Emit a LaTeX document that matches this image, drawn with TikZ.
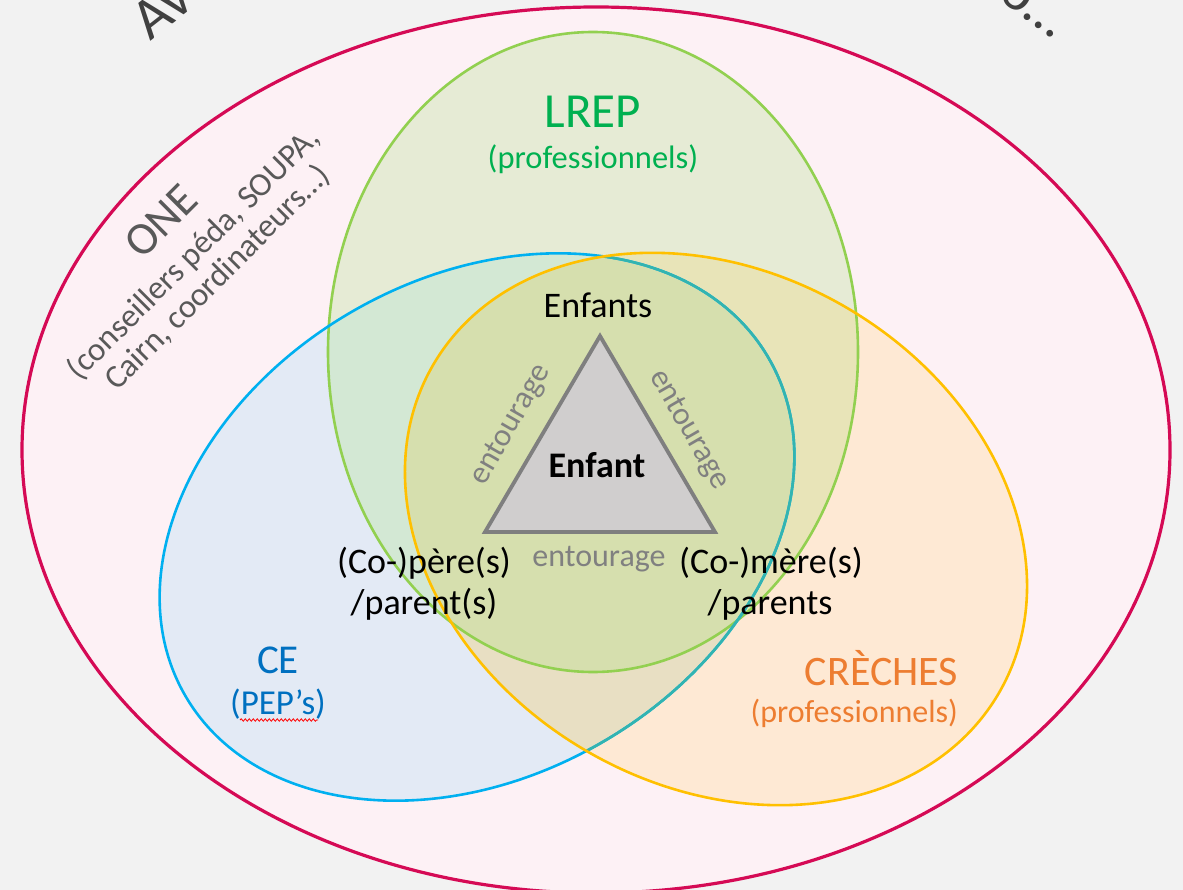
\documentclass[tikz,border=0pt]{standalone}
\usepackage{fontspec}
\setmainfont{Carlito}
\usetikzlibrary{decorations.pathmorphing}
\definecolor{bgc}{HTML}{F2F2F2}
\definecolor{onefill}{HTML}{FDF1F5}
\definecolor{onestroke}{HTML}{D50A55}
\definecolor{lrepfill}{HTML}{E6EBD5}
\definecolor{cefill}{HTML}{E3EAF5}
\definecolor{crfill}{HTML}{FEE9D4}
\definecolor{celrep}{HTML}{D3E8D4}
\definecolor{lrepcr}{HTML}{E8E4B8}
\definecolor{cecr}{HTML}{E8DFC3}
\definecolor{triple}{HTML}{D6DFAE}
\definecolor{greenstroke}{HTML}{92D050}
\definecolor{bluestroke}{HTML}{00B0F0}
\definecolor{tealstroke}{HTML}{33B4B0}
\definecolor{orangestroke}{HTML}{FFC000}
\definecolor{lrepgreen}{HTML}{00B050}
\definecolor{ceblue}{HTML}{0070C0}
\definecolor{crorange}{HTML}{ED7D31}
\definecolor{darkgray}{HTML}{595959}
\definecolor{midgray}{HTML}{808080}
\definecolor{trifill}{HTML}{D0CECE}
\definecolor{tristroke}{HTML}{7F7F7F}
\definecolor{toptext}{HTML}{404040}
\begin{document}
\begin{tikzpicture}[x=1pt,y=1pt,
  ellONE/.style={insert path={(596,-450) ellipse [x radius=574, y radius=443]}},
  ellLREP/.style={insert path={(593,-352) ellipse [x radius=265, y radius=320]}},
  ellCE/.style={insert path={(477,-527) ellipse [x radius=337, y radius=249, rotate=30]}},
  ellCR/.style={insert path={(716,-529) ellipse [x radius=327, y radius=257, rotate=-30]}},
  lbl/.style={inner sep=0pt, outer sep=0pt},
  blk/.style={lbl, text=black, font=\fontsize{36}{42}\selectfont},
  ent/.style={lbl, text=midgray, font=\fontsize{32}{36}\selectfont},
]
\useasboundingbox (0,0) rectangle (1183,-890);
\clip (0,0) rectangle (1183,-890);
\fill[bgc] (0,0) rectangle (1183,-890);

% partial top title
\node[lbl, text=toptext, font=\fontsize{58}{62}\selectfont, rotate=38, anchor=base west] (titleL) at (150,-42) {Av};
\node[lbl, text=toptext, font=\fontsize{56}{60}\selectfont, rotate=-36, anchor=base east] (titleR) at (1053,-39) {o…};

% ONE
\fill[onefill, ellONE];
\draw[onestroke, line width=3.2pt, ellONE];

% region fills
\fill[lrepfill, ellLREP];
\fill[cefill, ellCE];
\fill[crfill, ellCR];
\begin{scope}\clip[ellCE]; \fill[celrep, ellLREP];\end{scope}
\begin{scope}\clip[ellLREP]; \fill[lrepcr, ellCR];\end{scope}
\begin{scope}\clip[ellCE]; \fill[cecr, ellCR];\end{scope}
\begin{scope}\clip[ellCE]; \clip[ellLREP]; \fill[triple, ellCR];\end{scope}

% strokes
\draw[greenstroke, line width=2.6pt, ellLREP];
\draw[bluestroke, line width=2.6pt, ellCE];
\begin{scope}\clip[ellCR]; \draw[tealstroke, line width=2.6pt, ellCE];\end{scope}
\draw[orangestroke, line width=2.6pt, ellCR];

% ONE text
\node[lbl, text=darkgray, rotate=45, align=center, font=\fontsize{33}{34}\selectfont] (one) at (189,-249)
  {{\fontsize{46}{50}\selectfont ONE}\\[7pt](conseillers péda, SOUPA,\\Cairn, coordinateurs…)};

% LREP
\node[lbl, text=lrepgreen, font=\fontsize{49}{52}\selectfont, anchor=base] (lrep) at (593,-128) {LREP};
\node[lbl, text=lrepgreen, font=\fontsize{32.5}{36}\selectfont, anchor=base] (lrepsub) at (593,-169) {(professionnels)};

% CE
\node[lbl, text=ceblue, font=\fontsize{41}{44}\selectfont, anchor=base] (ce) at (278,-673) {CE};
\node[lbl, text=ceblue, font=\fontsize{35}{38}\selectfont, anchor=base] (pep) at (278,-714) {(PEP’s)};
\coordinate (wavyA) at (240,-720);
\coordinate (wavyB) at (318,-720);
\draw[red, line width=0.8pt, decorate, decoration={snake, amplitude=1.2pt, segment length=4pt}] (wavyA) -- (wavyB);

% CRECHES
\node[lbl, text=crorange, font=\fontsize{42}{45}\selectfont, anchor=base east] (creches) at (958,-685) {CRÈCHES};
\node[lbl, text=crorange, font=\fontsize{32}{36}\selectfont, anchor=base east] (crechesub) at (958,-722) {(professionnels)};

% triangle
\coordinate (tA) at (600,-336);
\coordinate (tB) at (485,-532);
\coordinate (tC) at (715,-532);
\draw[fill=trifill, draw=tristroke, line width=3.8pt, line join=miter] (tA) -- (tB) -- (tC) -- cycle;
\node[lbl, text=black, font=\fontsize{36}{40}\selectfont\bfseries, anchor=base] (enfant) at (597,-477) {Enfant};
\node[blk, anchor=base] (enfants) at (598,-318) {Enfants};
\node[ent, rotate=60] (entL) at (511,-425) {entourage};
\node[ent, rotate=-60] (entR) at (689,-430) {entourage};
\node[ent, anchor=base] (entB) at (599,-566) {entourage};

% parents
\node[blk, anchor=base] (pere) at (424,-573) {(Co-)père(s)};
\node[blk, anchor=base] (pereb) at (424,-614) {/parent(s)};
\node[blk, anchor=base] (mere) at (771,-573) {(Co-)mère(s)};
\node[blk, anchor=base] (mereb) at (770,-614) {/parents};
\end{tikzpicture}
\end{document}
